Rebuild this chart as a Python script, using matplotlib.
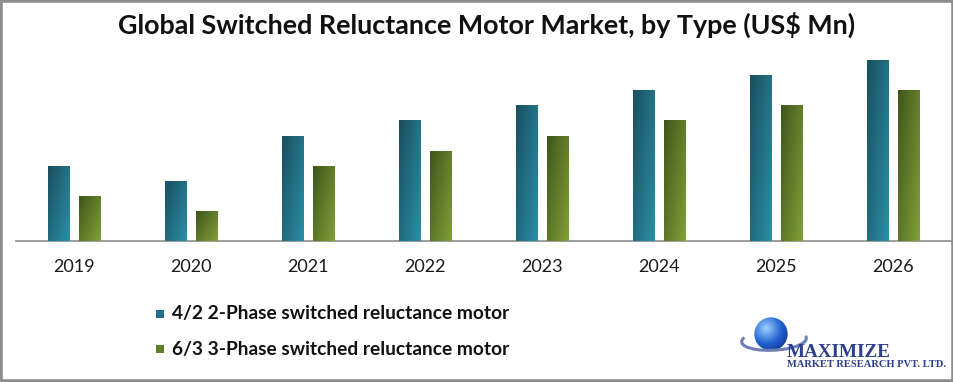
import numpy as np
import matplotlib
matplotlib.use("Agg")
import matplotlib.pyplot as plt
from matplotlib.colors import LinearSegmentedColormap
from matplotlib.patches import Rectangle, Circle, Arc

# ---------------- data ----------------
years = ["2019", "2020", "2021", "2022", "2023", "2024", "2025", "2026"]
phase2 = [75, 60, 105, 121, 136, 151, 166, 181]   # 4/2 2-Phase
phase3 = [45, 30, 75, 90, 105, 121, 136, 151]     # 6/3 3-Phase
labels = ["4/2 2-Phase switched reluctance motor",
          "6/3 3-Phase switched reluctance motor"]
title = "Global Switched Reluctance Motor Market, by Type (US$ Mn)"

W, H = 954, 382
fig = plt.figure(figsize=(W / 100, H / 100), dpi=100)
fig.patch.set_facecolor("white")

def fx(px):
    return px / W

def fy(py):
    return 1 - py / H

teal_cm = LinearSegmentedColormap.from_list("teal", ["#19505f", "#2b8ea6"])
green_cm = LinearSegmentedColormap.from_list("green", ["#3f561a", "#80a038"])

ax = fig.add_axes([fx(16), fy(241), fx(951) - fx(16), fy(40) - fy(241)])
x = np.arange(len(years))
bw = 0.18
off = 0.1325
b1 = ax.bar(x - off, phase2, bw, color="#237088", zorder=2)
b2 = ax.bar(x + off, phase3, bw, color="#5f7d2b", zorder=2)

# gradient fill clipped to each bar
gy, gx = np.mgrid[0:1:60j, 0:1:30j]
grad = (gx * 0.55 + gy * 0.45)
for bars, cm in ((b1, teal_cm), (b2, green_cm)):
    for r in bars:
        x0, y0 = r.get_x(), r.get_y()
        w, h = r.get_width(), r.get_height()
        im = ax.imshow(grad, cmap=cm, extent=(x0, x0 + w, y0, y0 + h),
                       origin="upper", aspect="auto", zorder=3, interpolation="bilinear")
        im.set_clip_path(r)

ax.set_xlim(-0.5, 7.5)
ax.set_ylim(0, 201)
ax.set_xticks(x)
ax.set_xticklabels(years, fontsize=13, family="Lato", color="#1a1a1a")
ax.set_yticks([])
ax.tick_params(axis="x", length=0, pad=13)
for s in ("top", "left", "right"):
    ax.spines[s].set_visible(False)
ax.spines["bottom"].set_color("#8c8c8c")
ax.spines["bottom"].set_linewidth(1.2)

fig.text(fx(487), fy(25), title, ha="center", va="center",
         fontsize=19.4, fontweight="bold", family="Lato", color="#111111")

# legend
for i, (lab, col) in enumerate(zip(labels, ["#237088", "#5f7d2b"])):
    yy = 314 + 35 * i
    fig.patches.append(Rectangle((fx(156), fy(yy + 4)), fx(8), fy(yy - 4) - fy(yy + 4),
                                 transform=fig.transFigure, facecolor=col, edgecolor="none"))
    fig.text(fx(172), fy(yy), lab, ha="left", va="center", fontsize=13.8,
             fontweight="bold", family="Lato", color="#111111")

# logo
fig.patches.append(Arc((fx(774), fy(340)), fx(66), fy(330) - fy(350), angle=18,
                       theta1=150, theta2=360, transform=fig.transFigure,
                       edgecolor="#6f7fb5", linewidth=2.2))
gl = fig.add_axes([fx(753), fy(351), fx(36), fy(317) - fy(351)])
gl.set_xlim(0, 1)
gl.set_ylim(0, 1)
gl.axis("off")
ry, rx = np.mgrid[0:1:50j, 0:1:50j]
dd = np.sqrt((rx - 0.35) ** 2 + (ry - 0.35) ** 2)
globe_cm = LinearSegmentedColormap.from_list("globe", ["#9fd0ff", "#2060d0", "#0a1f70"])
gim = gl.imshow(dd, cmap=globe_cm, extent=(0, 1, 0, 1), origin="upper", vmin=0, vmax=0.9)
circ = Circle((0.5, 0.5), 0.49, transform=gl.transData)
gim.set_clip_path(circ)
fig.text(fx(787), fy(357), "MAXIMIZE", ha="left", va="baseline", fontsize=13.8,
         family="Liberation Serif", fontweight="bold", color="#2e3f8f")
fig.text(fx(787), fy(367), "MARKET RESEARCH PVT. LTD.", ha="left", va="baseline",
         fontsize=7.6, family="Liberation Serif", fontweight="bold", color="#2e3f8f")

# outer border
fig.patches.append(Rectangle((0, 0), 1, 1, transform=fig.transFigure, facecolor="none",
                             edgecolor="#8c8c8c", linewidth=4))

fig.savefig("out.png", dpi=100)
